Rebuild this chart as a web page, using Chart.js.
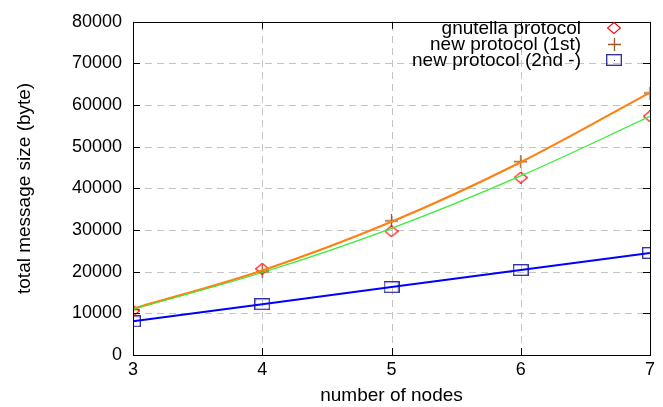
<!DOCTYPE html>
<html><head><meta charset="utf-8">
<script src="https://cdn.jsdelivr.net/npm/chart.js@4"></script>
<style>html,body{margin:0;padding:0;background:#fff}#wrap{width:663px;height:407px}</style>
</head><body><div id="wrap"><canvas id="c" width="663" height="407"></canvas></div>
<script>
const nodes = [3, 4, 5, 6, 7];
const gnutella = [10600, 20700, 29700, 42600, 57300];
const newFirst = [10900, 20000, 32200, 46400, 62900];
const newSecond = [8100, 12200, 16300, 20400, 24500];
const gnutellaFit = [11000, 19800, 30400, 43000, 57300];
const newFirstFit = [11100, 20300, 32000, 46300, 63000];
const yTicks = [0, 10000, 20000, 30000, 40000, 50000, 60000, 70000, 80000];
const legendLabels = ['gnutella protocol', 'new protocol (1st)', 'new protocol (2nd -)'];

const pts = a => nodes.map((x, i) => ({x, y: a[i]}));
const FONT = '"Liberation Sans", Arial, sans-serif';

function marker(w, h, draw) {
  const c = document.createElement('canvas');
  c.width = w; c.height = h;
  const g = c.getContext('2d');
  draw(g, w, h);
  return c;
}
const diamondImg = marker(14, 12, (g, w, h) => {
  g.strokeStyle = '#ff0000'; g.lineWidth = 1.1;
  g.beginPath(); g.moveTo(w / 2, 0.5); g.lineTo(w - 0.5, h / 2); g.lineTo(w / 2, h - 0.5); g.lineTo(0.5, h / 2); g.closePath(); g.stroke();
});
const crossImg = marker(13, 13, (g, w, h) => {
  g.strokeStyle = '#9a5a28'; g.lineWidth = 1.3;
  g.beginPath(); g.moveTo(0, 6.5); g.lineTo(13, 6.5); g.moveTo(6.5, 0); g.lineTo(6.5, 13); g.stroke();
});
const squareImg = marker(16, 12, (g, w, h) => {
  g.strokeStyle = '#2a2aa0'; g.lineWidth = 1.3;
  g.strokeRect(0.7, 0.7, w - 1.4, h - 1.4);
});

const gridPlugin = {
  id: 'gridPlugin',
  beforeDatasetsDraw(chart) {
    const {ctx, chartArea: a, scales: {x, y}} = chart;
    ctx.save();
    ctx.strokeStyle = '#c4c4c4'; ctx.lineWidth = 1;
    ctx.setLineDash([7, 5]);
    ctx.beginPath();
    for (const v of yTicks.slice(1, -1)) {
      const py = Math.round(y.getPixelForValue(v)) + 0.5;
      ctx.moveTo(a.left, py); ctx.lineTo(a.right, py);
    }
    for (const v of nodes.slice(1, -1)) {
      const px = Math.round(x.getPixelForValue(v)) + 0.5;
      ctx.moveTo(px, a.bottom); ctx.lineTo(px, a.top);
    }
    ctx.stroke();
    ctx.restore();
  }
};

const frame = {
  id: 'frame',
  afterDraw(chart) {
    const {ctx, chartArea: a, scales: {x, y}} = chart;
    ctx.save();
    ctx.strokeStyle = '#000'; ctx.lineWidth = 1;
    ctx.beginPath();
    for (const v of yTicks) {
      const py = Math.round(y.getPixelForValue(v)) + 0.5;
      ctx.moveTo(a.left, py); ctx.lineTo(a.left + 7, py);
      ctx.moveTo(a.right, py); ctx.lineTo(a.right - 7, py);
    }
    for (const v of nodes) {
      const px = Math.round(x.getPixelForValue(v)) + 0.5;
      ctx.moveTo(px, a.bottom); ctx.lineTo(px, a.bottom - 7);
      ctx.moveTo(px, a.top); ctx.lineTo(px, a.top + 7);
    }
    ctx.stroke();
    ctx.strokeRect(Math.round(a.left) + 0.5, Math.round(a.top) + 0.5, Math.round(a.right - a.left), Math.round(a.bottom - a.top));
    // legend
    ctx.font = '19px ' + FONT;
    ctx.textAlign = 'right'; ctx.textBaseline = 'middle';
    const rows = [28, 44, 60];
    const mx = 614;
    legendLabels.forEach((t, i) => {
      ctx.fillStyle = '#000';
      ctx.fillText(t, 581, rows[i] + 1);
    });
    const imgs = [diamondImg, crossImg, squareImg];
    imgs.forEach((im, i) => ctx.drawImage(im, Math.round(mx - im.width / 2), Math.round(rows[i] - im.height / 2)));
    ctx.fillStyle = '#2a2aa0';
    ctx.fillRect(mx, rows[2], 1, 1);
    ctx.restore();
  }
};

new Chart(document.getElementById('c'), {
  type: 'scatter',
  data: {
    datasets: [
      {label: 'gnutella fit', data: pts(gnutellaFit), showLine: true, borderColor: '#33ee33', borderWidth: 1.2, pointRadius: 0, tension: 0.4, cubicInterpolationMode: 'monotone'},
      {label: 'new 1st fit', data: pts(newFirstFit), showLine: true, borderColor: '#ff8010', borderWidth: 2.2, pointRadius: 0, tension: 0.4, cubicInterpolationMode: 'monotone'},
      {label: 'new 2nd line', data: pts(newSecond), showLine: true, borderColor: '#0000ff', borderWidth: 2, pointRadius: 0},
      {label: legendLabels[0], data: pts(gnutella), pointStyle: diamondImg, pointRadius: 6},
      {label: legendLabels[1], data: pts(newFirst), pointStyle: crossImg, pointRadius: 6},
      {label: legendLabels[2], data: pts(newSecond), pointStyle: squareImg, pointRadius: 7}
    ]
  },
  options: {
    responsive: false, animation: false,
    layout: {padding: {left: 0, right: 13, top: 16, bottom: 0}},
    plugins: {legend: {display: false}, tooltip: {enabled: false}},
    scales: {
      x: {
        type: 'linear', min: 3, max: 7,
        afterFit(s) { s.height = 52; },
        ticks: {stepSize: 1, color: '#000', font: {family: FONT, size: 18}, padding: 4},
        grid: {display: false, drawTicks: false},
        border: {display: false},
        title: {display: true, text: 'number of nodes', color: '#000', font: {family: FONT, size: 19}, padding: {top: 0, bottom: 0}}
      },
      y: {
        min: 0, max: 80000,
        afterFit(s) { s.width = 133; },
        afterBuildTicks(s) { s.ticks = yTicks.map(v => ({value: v})); },
        ticks: {color: '#000', font: {family: FONT, size: 18}, padding: 11, callback: v => String(v)},
        grid: {display: false, drawTicks: false},
        border: {display: false},
        title: {display: true, text: 'total message size (byte)', color: '#000', font: {family: FONT, size: 19}, padding: {top: 13.6, bottom: 0}}
      }
    }
  },
  plugins: [gridPlugin, frame]
});
</script>
</body></html>
